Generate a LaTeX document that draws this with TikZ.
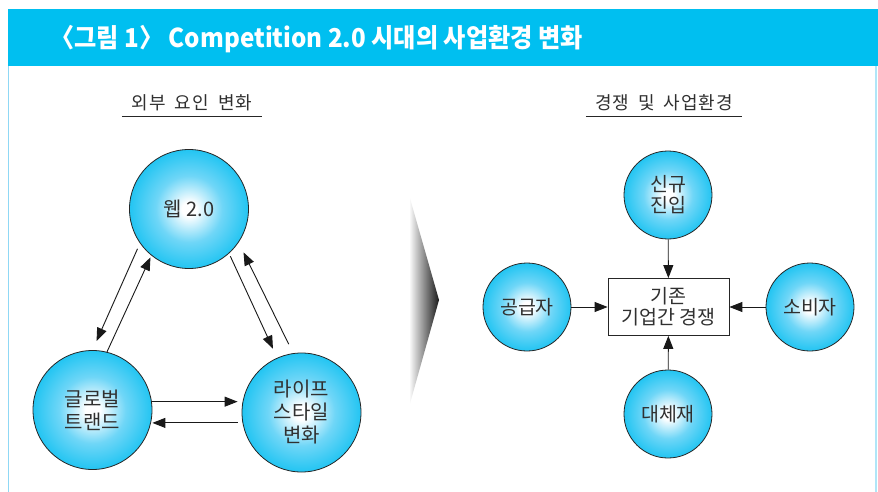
\documentclass[tikz,border=0pt]{standalone}
\usepackage{fontspec}
\setmainfont{Noto Sans CJK KR}
\usetikzlibrary{arrows.meta}
\definecolor{hdr}{HTML}{00BFF0}
\definecolor{ballc}{HTML}{00BDF0}
\definecolor{ballm}{HTML}{6FD6F7}
\definecolor{txt}{HTML}{303030}
\definecolor{edgel}{HTML}{8FD8F5}
\definecolor{edger}{HTML}{B0E6F8}
\pgfdeclareradialshading{ballshade}{\pgfpoint{0bp}{0bp}}{color(0bp)=(white); color(3bp)=(white); color(14bp)=(ballm); color(30bp)=(ballc); color(50bp)=(ballc)}
\tikzset{
  ball/.style={circle, draw=black!85, line width=0.8pt, shading=ballshade, inner sep=0pt, align=center, text=txt},
  bigball/.style={ball, minimum size=119pt, font=\fontsize{20}{23}\selectfont},
  smallball/.style={ball, minimum size=88pt, font=\fontsize{19.5}{21}\selectfont},
  arr/.style={draw=black!90, line width=0.9pt, -{Triangle[length=13pt,width=10pt]}},
  subt/.style={text=txt, font=\fontsize{18}{20}\selectfont, inner sep=0pt, minimum height=26pt},
}
\begin{document}
\begin{tikzpicture}[x=1pt,y=-1pt]
\useasboundingbox (0,0) rectangle (878,492);
\fill[white] (0,0) rectangle (878,492);
% header
\fill[hdr] (8,9) rectangle (878,66);
\node[anchor=west, text=white, font=\fontsize{26}{28}\selectfont\bfseries, inner sep=0pt] (title) at (50,39) {\scalebox{0.93}[1]{〈그림 1〉 Competition 2.0 시대의 사업환경 변화}};
\draw[edgel, line width=1.2pt] (8.6,66) -- (8.6,492);
\draw[edger, line width=2pt] (876,66) -- (876,492);
% subtitles
\node[subt, minimum width=140pt] (lt) at (192,103) {외\hspace{1pt}부\hspace{9pt}요\hspace{1pt}인\hspace{9pt}변\hspace{1pt}화};
\draw[black!85, line width=0.8pt] (lt.south west) -- (lt.south east);
\node[subt, minimum width=156pt] (rt) at (664,103) {경\hspace{1pt}쟁\hspace{9pt}및\hspace{9pt}사\hspace{1pt}업\hspace{1pt}환\hspace{1pt}경};
\draw[black!85, line width=0.8pt] (rt.south west) -- (rt.south east);
% left cycle
\node[bigball] (web) at (189,209) {웹 2.0};
\node[bigball] (glob) at (92.5,410) {글로벌\\트랜드};
\node[bigball] (life) at (301.5,412.5) {라이프\\스타일\\변화};
\draw[arr, shorten <=6pt, shorten >=10pt] (web.215) -- (glob.90);
\draw[arr, shorten >=2pt] (glob.76) -- (web.231);
\draw[arr, shorten <=3pt, shorten >=10pt] (web.312) -- (life.114);
\draw[arr, shorten <=10pt, shorten >=11pt] (life.98) -- (web.326);
\draw[arr, shorten >=4pt] (glob.8.7) -- (glob.8.7 -| life.west);
\draw[arr, shorten <=5pt] (life.190.1) -- (life.190.1 -| glob.east);
% chevron
\shade[left color=white, right color=black!90] (409,195) -- (439,300) -- (409,407) -- cycle;
% right diagram
\node[draw=black!85, line width=0.8pt, fill=white, minimum width=121pt, minimum height=57pt, align=center, text=txt, font=\fontsize{19.5}{21}\selectfont, inner sep=0pt] (comp) at (668.5,307) {기존\\기업간 경쟁};
\node[smallball] (new) at (668,195) {신규\\진입};
\node[smallball] (sup) at (527,307) {공급자};
\node[smallball] (con) at (810,307) {소비자};
\node[smallball] (sub) at (668,414) {대체재};
\draw[arr] (new) -- (comp);
\draw[arr] (sup) -- (comp);
\draw[arr] (con) -- (comp);
\draw[arr] (sub) -- (comp);
\end{tikzpicture}
\end{document}
